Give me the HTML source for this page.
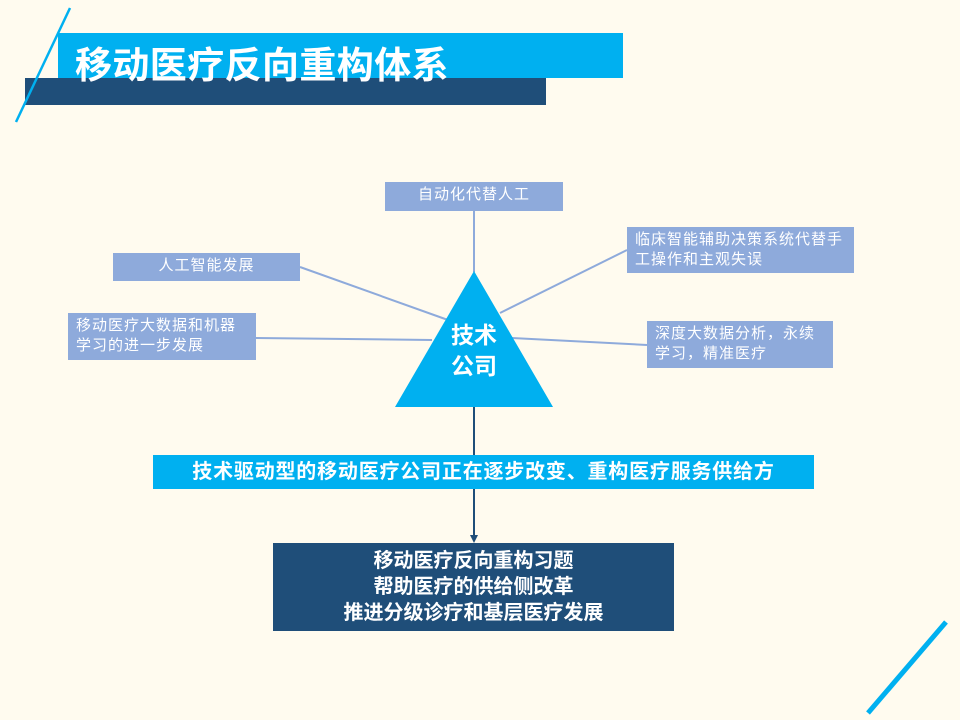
<!DOCTYPE html><html><head><meta charset="utf-8"><style>
body{margin:0;width:960px;height:720px;background:#fffbef;position:relative;overflow:hidden;font-family:"Liberation Sans","Noto Sans CJK SC",sans-serif}
.a{position:absolute}
.b{position:absolute;background:#8eaadb;color:#fff;font-size:15px;letter-spacing:1px;line-height:20px;box-sizing:border-box;padding:3px 8px}
</style></head><body>
<div class="a" style="left:58px;top:33px;width:565px;height:45px;background:#00b0f0"></div>
<div class="a" style="left:25px;top:78px;width:521px;height:27px;background:#1f4e79"></div>
<svg class="a" style="left:0;top:0" width="960" height="720">
<line x1="70" y1="8" x2="16" y2="122" stroke="#00b0f0" stroke-width="2.5"/>
<line x1="946" y1="622" x2="868" y2="713" stroke="#00b0f0" stroke-width="5"/>
<g stroke="#8eaadb" stroke-width="2">
<line x1="474" y1="211" x2="474" y2="272"/>
<line x1="300" y1="267" x2="448" y2="320"/>
<line x1="256" y1="338" x2="432" y2="340"/>
<line x1="627" y1="250" x2="500" y2="313"/>
<line x1="647" y1="345" x2="512" y2="338"/>
</g>
<polygon points="474,271 553,407 395,407" fill="#00b0f0"/>
<line x1="474" y1="407" x2="474" y2="536" stroke="#1f4e79" stroke-width="2"/>
<polygon points="470,535 478,535 474,543" fill="#1f4e79"/>
</svg>
<div class="a" style="left:75px;top:43px;color:#fff;font-size:37px;font-weight:bold;line-height:46px;letter-spacing:0.4px">移动医疗反向重构体系</div>
<div class="b" style="left:385px;top:182px;width:178px;height:29px;text-align:center">自动化代替人工</div>
<div class="b" style="left:627px;top:227px;width:227px;height:46px">临床智能辅助决策系统代替手工操作和主观失误</div>
<div class="b" style="left:113px;top:253px;width:187px;height:28px;text-align:center">人工智能发展</div>
<div class="b" style="left:68px;top:313px;width:188px;height:47px">移动医疗大数据和机器学习的进一步发展</div>
<div class="b" style="left:647px;top:321px;width:186px;height:47px">深度大数据分析，永续学习，精准医疗</div>
<div class="a" style="left:424px;top:320px;width:100px;text-align:center;color:#fff;font-weight:bold;font-size:23px;line-height:31px">技术<br>公司</div>
<div class="a" style="left:153px;top:455px;width:661px;height:34px;background:#00b0f0;color:#fff;font-weight:bold;font-size:20px;letter-spacing:0.8px;line-height:34px;text-align:center">技术驱动型的移动医疗公司正在逐步改变、重构医疗服务供给方</div>
<div class="a" style="left:273px;top:543px;width:401px;height:88px;background:#1f4e79;color:#fff;font-weight:bold;font-size:20px;line-height:26px;text-align:center;padding-top:5px;box-sizing:border-box">移动医疗反向重构习题<br>帮助医疗的供给侧改革<br>推进分级诊疗和基层医疗发展</div>
</body></html>
